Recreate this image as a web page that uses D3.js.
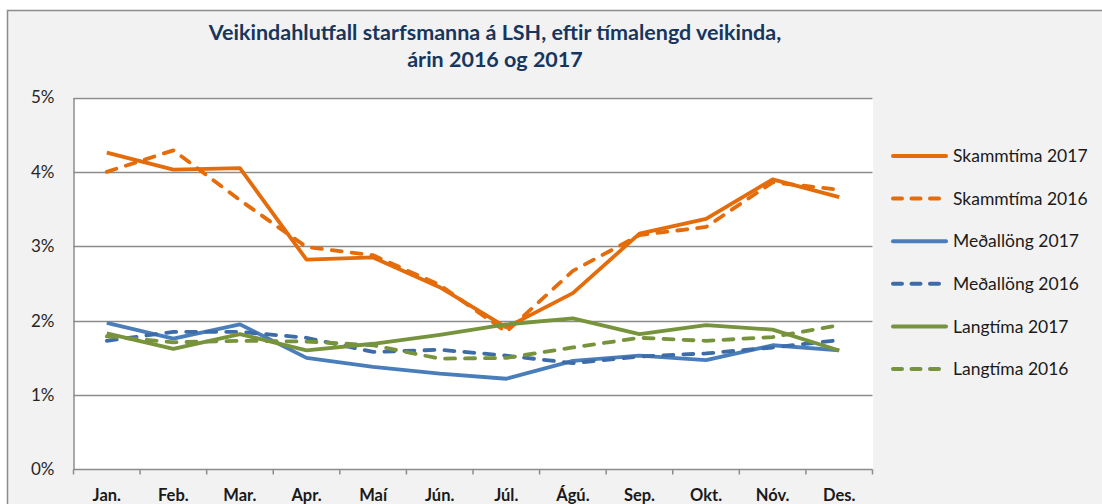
<!DOCTYPE html>
<html>
<head>
<meta charset="utf-8">
<script src="https://cdn.jsdelivr.net/npm/d3@7"></script>
<style>
  html, body { margin: 0; padding: 0; background: #ffffff; }
  svg { display: block; }
  text { font-family: Lato, "Open Sans", sans-serif; }
</style>
</head>
<body>
<svg id="chart" width="1102" height="504"></svg>
<script>
// Months on the category axis
const months = ["Jan.", "Feb.", "Mar.", "Apr.", "Maí", "Jún.", "Júl.", "Ágú.", "Sep.", "Okt.", "Nóv.", "Des."];

// Sick-leave ratio (%) by duration of illness
const skammtima2017 = [4.26, 4.03, 4.05, 2.82, 2.85, 2.45, 1.91, 2.37, 3.17, 3.37, 3.90, 3.66];
const skammtima2016 = [4.00, 4.29, 3.62, 2.99, 2.88, 2.48, 1.85, 2.67, 3.15, 3.26, 3.86, 3.76];
const medallong2017 = [1.97, 1.76, 1.95, 1.50, 1.38, 1.29, 1.22, 1.46, 1.53, 1.47, 1.67, 1.60];
const medallong2016 = [1.73, 1.85, 1.85, 1.77, 1.58, 1.61, 1.53, 1.43, 1.52, 1.56, 1.64, 1.74];
const langtima2017  = [1.83, 1.62, 1.82, 1.60, 1.69, 1.81, 1.95, 2.03, 1.82, 1.94, 1.88, 1.60];
const langtima2016  = [1.79, 1.71, 1.73, 1.72, 1.67, 1.49, 1.50, 1.64, 1.77, 1.73, 1.78, 1.94];

const yTicks = [0, 1, 2, 3, 4, 5];

const seriesNames = ["Skammtíma 2017", "Skammtíma 2016", "Meðallöng 2017", "Meðallöng 2016", "Langtíma 2017", "Langtíma 2016"];
const seriesValues = [skammtima2017, skammtima2016, medallong2017, medallong2016, langtima2017, langtima2016];
const seriesColors = ["#e46c0a", "#e46c0a", "#4a7ebb", "#3d6ca8", "#77933c", "#77933c"];
const seriesDashed = [false, true, false, true, false, true];

const titleLines = ["Veikindahlutfall starfsmanna á LSH, eftir tímalengd veikinda,", "árin 2016 og 2017"];

const svg = d3.select("#chart");

// chart frame
svg.append("rect")
  .attr("x", 7.5).attr("y", 10.5)
  .attr("width", 1110).attr("height", 510)
  .attr("fill", "#f2f2f2")
  .attr("stroke", "#8c8c8c").attr("stroke-width", 1.5);

const plot = { left: 73.5, right: 872.5, top: 97.5, bottom: 469.5 };

const x = d3.scaleBand().domain(months).range([plot.left, plot.right]).paddingInner(0).paddingOuter(0);
const y = d3.scaleLinear().domain([0, 5]).range([plot.bottom, plot.top]);

// plot area
svg.append("rect")
  .attr("x", plot.left).attr("y", plot.top)
  .attr("width", plot.right - plot.left + 0.5).attr("height", plot.bottom - plot.top)
  .attr("fill", "#ffffff");

// horizontal gridlines
svg.append("g")
  .selectAll("line")
  .data(yTicks.filter(d => d > 0))
  .join("line")
  .attr("x1", plot.left).attr("x2", plot.right)
  .attr("y1", d => Math.round(y(d)) + 0.5).attr("y2", d => Math.round(y(d)) + 0.5)
  .attr("stroke", "#8c8c8c").attr("stroke-width", 1.5);

// y axis
const yAxis = svg.append("g")
  .attr("transform", `translate(${plot.left},0)`)
  .call(d3.axisLeft(y).tickValues(yTicks).tickFormat(d => d + "%").tickSize(0).tickPadding(19));
yAxis.select(".domain").attr("stroke", "#8c8c8c").attr("stroke-width", 1.5);
yAxis.selectAll("text")
  .attr("font-size", 17).attr("fill", "#262626")
  .attr("font-family", "Lato, sans-serif");

// x axis: tick marks on category boundaries
const xAxisG = svg.append("g").attr("transform", `translate(0,${plot.bottom})`);
xAxisG.append("line")
  .attr("x1", plot.left).attr("x2", plot.right)
  .attr("stroke", "#8c8c8c").attr("stroke-width", 1.5);
const bounds = months.map(m => x(m)).concat([plot.right]);
xAxisG.selectAll("line.tick")
  .data(bounds)
  .join("line")
  .attr("class", "tick")
  .attr("x1", d => d).attr("x2", d => d)
  .attr("y1", 0).attr("y2", 5)
  .attr("stroke", "#8c8c8c").attr("stroke-width", 1.5);
xAxisG.selectAll("text")
  .data(months)
  .join("text")
  .attr("x", d => x(d) + x.bandwidth() / 2)
  .attr("y", 31)
  .attr("text-anchor", "middle")
  .attr("font-size", 16.5).attr("font-weight", 700).attr("fill", "#1a1a1a")
  .text(d => d);

// series lines
const line = d3.line()
  .x((d, i) => x(months[i]) + x.bandwidth() / 2)
  .y(d => y(d));

svg.append("g")
  .selectAll("path")
  .data(seriesValues.map((v, i) => i))
  .join("path")
  .attr("d", i => line(seriesValues[i]))
  .attr("fill", "none")
  .attr("stroke", i => seriesColors[i])
  .attr("stroke-width", 3.8)
  .attr("stroke-linejoin", "round")
  .attr("stroke-linecap", i => seriesDashed[i] ? "round" : "butt")
  .attr("stroke-dasharray", i => seriesDashed[i] ? "10,10" : null);

// legend
const legend = svg.append("g");
const legendTop = 156, legendStep = 42.6;
seriesNames.forEach((name, i) => {
  const gy = legendTop + i * legendStep;
  legend.append("line")
    .attr("x1", 893).attr("x2", 946)
    .attr("y1", gy).attr("y2", gy)
    .attr("stroke", seriesColors[i])
    .attr("stroke-width", 4)
    .attr("stroke-linecap", "round")
    .attr("stroke-dasharray", seriesDashed[i] ? "9,9.5" : null);
  legend.append("text")
    .attr("x", 953).attr("y", gy)
    .attr("dy", "0.35em")
    .attr("font-size", 17.5).attr("fill", "#1a1a1a")
    .text(name);
});

// title
svg.append("g")
  .selectAll("text")
  .data(titleLines)
  .join("text")
  .attr("x", 495)
  .attr("y", (d, i) => 40 + i * 27)
  .attr("text-anchor", "middle")
  .attr("font-size", 21.5).attr("font-weight", 700)
  .attr("fill", "#17365d")
  .text(d => d);
</script>
</body>
</html>
